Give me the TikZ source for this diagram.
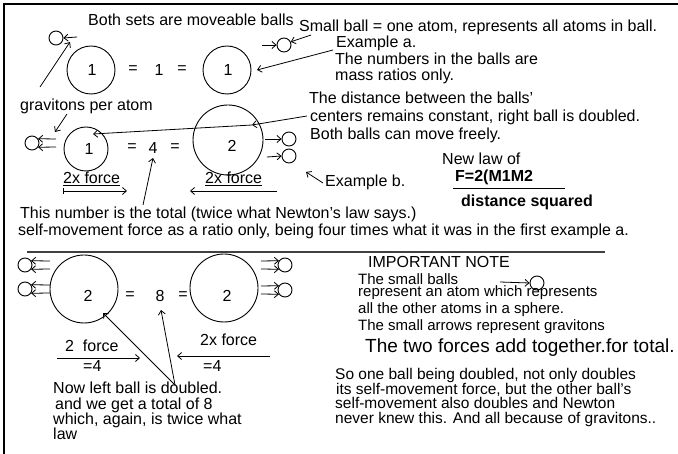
\documentclass[tikz,border=0pt]{standalone}
\usepackage{fontspec}
\setmainfont{Liberation Sans}
\usetikzlibrary{arrows.meta}
\begin{document}
\begin{tikzpicture}[x=1pt,y=-1pt,
  txt/.style={anchor=base west,inner sep=0pt,font=\fontsize{16}{16}\selectfont},
  sml/.style={anchor=base west,inner sep=0pt,font=\fontsize{15}{15}\selectfont},
  mid/.style={anchor=base west,inner sep=0pt,font=\fontsize{15.5}{15.5}\selectfont},
  big/.style={anchor=base west,inner sep=0pt,font=\fontsize{19}{19}\selectfont},
  bld/.style={anchor=base west,inner sep=0pt,font=\fontsize{16}{16}\selectfont\bfseries},
  num/.style={inner sep=0pt,font=\fontsize{16}{16}\selectfont},
  ball/.style={circle,draw,line width=0.9pt,inner sep=0pt},
  atom/.style={circle,draw,line width=0.9pt,inner sep=0pt,minimum size=14pt},
  ln/.style={line width=0.8pt},
  arr/.style={line width=0.8pt,-{Straight Barb[length=4pt,width=7pt]}},
  barr/.style={line width=0.8pt,{Bar[width=6pt]}-{Straight Barb[length=4pt,width=7pt]}},
]
\useasboundingbox (0,0) rectangle (678,454);
\draw[line width=2.5pt] (4,454) -- (4,4) -- (678,4);

% ---------- top row (example a) ----------
\node[txt] (t1) at (88,26) {Both sets are moveable balls};
\node[txt] (t2) at (299,32) {Small ball = one atom, represents all atoms in ball.};
\node[ball,minimum size=48pt] (A1) at (91,70) {};
\node[num] (a1n) at (92,70) {1};
\node[num] (e1) at (133,70) {=};
\node[num] (e2) at (159,70) {1};
\node[num] (e3) at (182,70) {=};
\node[ball,minimum size=48pt] (B1) at (227,70) {};
\node[num] (b1n) at (228,70) {1};

\node[atom] (sa) at (56,38) {};
\coordinate (sat) at (77,37);
\draw[arr] (sat) -- (sa.east);
\node[atom] (sb) at (284,45) {};
\coordinate (sbt) at (262,45);
\draw[arr] (sbt) -- (sb.west);
\coordinate (p1) at (311,35);
\draw[arr] (p1) -- (sb.25);

\node[txt] (ea1) at (336,48) {Example a.};
\node[txt] (ea2) at (335,65) {The numbers in the balls are};
\node[txt] (ea3) at (335,81) {mass ratios only.};
\coordinate (ea0) at (333,50);
\coordinate (ea9) at (257,70);
\draw[arr] (ea0) -- (ea9);

\node[txt] (gpa) at (20,111) {gravitons per atom};
\coordinate (g1) at (40,87);
\coordinate (g2) at (70,42);
\draw[arr] (g1) -- (g2);

% ---------- middle row (example b) ----------
\node[txt] (d1t) at (309,104) {The distance between the balls'};
\node[txt] (d2t) at (310,122) {centers remains constant, right ball is doubled.};
\node[txt] (d3t) at (310,140) {Both balls can move freely.};

\node[atom] (sc) at (32,143) {};
\coordinate (sc1) at (56,139);
\coordinate (sc2) at (56,147);
\draw[arr] (sc1) -- (sc.35);
\draw[arr] (sc2) -- (sc.-35);
\coordinate (g3) at (67,114);
\coordinate (g4) at (55,132);
\draw[arr] (g3) -- (g4);

\node[ball,minimum size=44pt] (A2) at (86,149) {};
\node[num] (a2n) at (89,149) {1};
\node[num] (e4) at (132,148) {=};
\node[num] (e5) at (153,148) {4};
\node[num] (e6) at (175,148) {=};
\node[ball,minimum size=70pt] (B2) at (228,140) {};
\node[num] (b2n) at (232,146) {2};

\node[atom] (sd) at (289,139) {};
\node[atom] (se) at (289,156) {};
\coordinate (sd0) at (265,139);
\coordinate (se0) at (267,157);
\draw[arr] (sd0) -- (sd.west);
\draw[arr] (se0) -- (se.west);

\coordinate (dd0) at (307,116);
\coordinate (dd1) at (252,125);
\coordinate (dd2) at (93,134);
\draw[arr] (dd0) -- (dd1);
\draw[arr] (dd1) -- (dd2);

\node[txt] (f1) at (63,184) {\underline{2x force}};
\coordinate (f1a) at (63,191);
\coordinate (f1b) at (127,191);
\draw[barr] (f1a) -- (f1b);
\node[txt] (f2) at (205,184) {\underline{2x force}};
\coordinate (f2a) at (277,191);
\coordinate (f2b) at (190,191);
\draw[arr] (f2a) -- (f2b);

\node[txt] (exb) at (325,187) {Example b.};
\coordinate (x1) at (323,183);
\coordinate (x2) at (306,172);
\draw[arr] (x1) -- (x2);

\node[txt] (nl) at (442,165) {New law of};
\node[bld] (fm) at (455,182) {F=2(M1M2};
\coordinate (fl1) at (453,189);
\coordinate (fl2) at (565,189);
\draw[line width=1pt] (fl1) -- (fl2);
\node[bld] (dsq) at (461,207) {distance squared};

\node[txt] (tn) at (20,219) {This number is the total (twice what Newton's law says.)};
\node[txt] (smf) at (18,236) {self-movement force as a ratio only, being four times what it was in the first example a.};
\coordinate (tn1) at (143,205);
\coordinate (tn2) at (153,158);
\draw[arr] (tn1) -- (tn2);

\coordinate (sep1) at (27,252);
\coordinate (sep2) at (605,252);
\draw[line width=1.5pt,black!75] (sep1) -- (sep2);

% ---------- bottom row ----------
\node[atom] (s1) at (25,265) {};
\node[atom] (s2) at (25,289) {};
\foreach \n/\y in {s1/265,s2/289}{
  \coordinate (\n u) at (50,\y-4);
  \coordinate (\n d) at (50,\y+4);
  \draw[arr] (\n u) -- (\n.35);
  \draw[arr] (\n d) -- (\n.-35);
}
\node[ball,minimum size=68pt] (A3) at (84,289) {};
\node[num] (a3n) at (88,296) {2};
\node[num] (e7) at (130,296) {=};
\node[num] (e8) at (160,296) {8};
\node[num] (e9) at (183,296) {=};
\node[ball,minimum size=68pt] (B3) at (224,288) {};
\node[num] (b3n) at (227,296) {2};
\node[atom] (s3) at (285,265) {};
\node[atom] (s4) at (285,290) {};
\foreach \n/\y in {s3/265,s4/290}{
  \coordinate (\n u) at (261,\y-4);
  \coordinate (\n d) at (261,\y+4);
  \draw[arr] (\n u) -- (\n.145);
  \draw[arr] (\n d) -- (\n.-145);
}

\node[txt] (f3) at (65,352) {2\ \ force};
\coordinate (f3a) at (57,358);
\coordinate (f3b) at (140,358);
\draw[arr] (f3a) -- (f3b);
\node[txt] (q1) at (83,372) {=4};
\node[txt] (f4) at (200,346) {2x force};
\coordinate (f4a) at (270,356);
\coordinate (f4b) at (177,356);
\draw[arr] (f4a) -- (f4b);
\node[txt] (q2) at (203,372) {=4};

\coordinate (nb) at (175,385);
\coordinate (nb1) at (103,313);
\coordinate (nb2) at (161,310);
\draw[arr] (nb) -- (nb1);
\draw[arr] (nb) -- (nb2);

\node[txt] (n1) at (53,394) {Now left ball is doubled.};
\node[txt] (n2) at (55,410) {and we get a total of 8};
\node[txt] (n3) at (53,425) {which, again, is twice what};
\node[txt] (n4) at (53,440) {law};

\node[txt] (imp) at (368,268) {IMPORTANT NOTE};
\node[sml] (i1) at (358,285) {The small balls};
\node[atom] (sn) at (537,283) {};
\coordinate (sn0) at (500,282);
\draw[arr] (sn0) -- (sn.west);
\node[sml] (i2) at (358,297) {represent an atom which represents};
\node[sml] (i3) at (358,314) {all the other atoms in a sphere.};
\node[sml] (i4) at (358,331) {The small arrows represent gravitons};
\node[big] (i5) at (365,353) {The two forces add together.for total.};

\node[mid] (o1) at (335,380) {So one ball being doubled, not only doubles};
\node[mid] (o2) at (336,395) {its self-movement force, but the other ball's};
\node[mid] (o3) at (335,409) {self-movement also doubles and Newton};
\node[mid] (o4) at (335,424) {never knew this. And all because of gravitons..};
\end{tikzpicture}
\end{document}
